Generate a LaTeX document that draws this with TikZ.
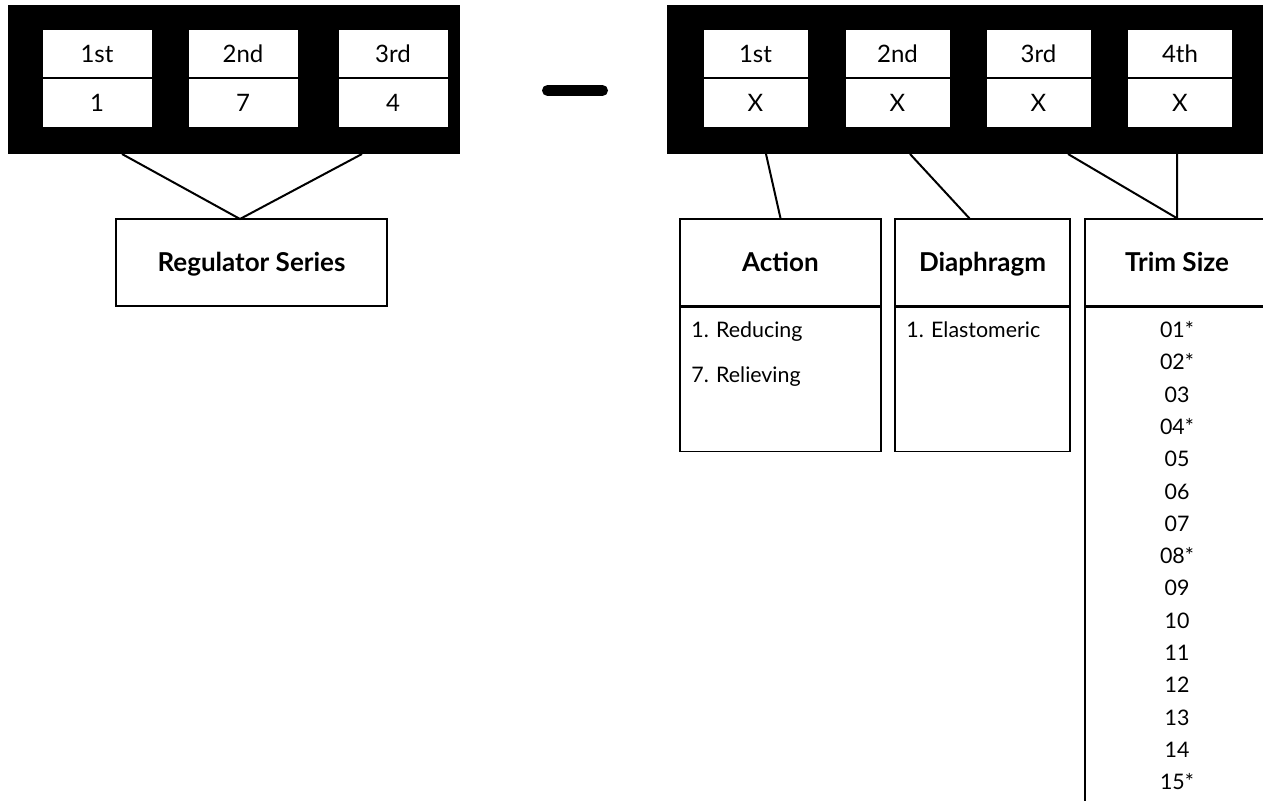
\documentclass[tikz,border=0pt]{standalone}
\usepackage{fontspec}
\setmainfont{Lato}
\usetikzlibrary{positioning}

\begin{document}
\begin{tikzpicture}[
    x=0.5pt, y=-0.5pt,
    frame/.style={rectangle, fill=black, inner sep=0pt, minimum height=74.5pt},
    cell/.style={rectangle, draw, fill=white, inner sep=0pt, minimum height=24.25pt,
                 font=\fontsize{12}{14}\selectfont},
    lcell/.style={cell, minimum width=55pt},
    rcell/.style={cell, minimum width=52.5pt},
    hdr/.style={rectangle, draw, line width=0.75pt, fill=white, inner sep=0pt,
                minimum height=43.5pt, text height=11.3pt, text depth=2.7pt,
                font=\fontsize{13}{15}\selectfont\bfseries},
    body/.style={rectangle, draw, line width=0.75pt, inner sep=0pt},
    items/.style={inner sep=0pt, font=\fontsize{10.7}{22.5}\selectfont, align=left},
    link/.style={line width=1pt},
]
\clip (0,0) rectangle (1263,801);

% Regulator series code
\node[frame, minimum width=226pt] (lframe) at (234,79.5) {};
\node[lcell] (l1top) at (97,53.5) {1st};
\node[lcell, below=0pt of l1top] (l1bot) {1};
\node[lcell] (l2top) at (243,53.5) {2nd};
\node[lcell, below=0pt of l2top] (l2bot) {7};
\node[lcell] (l3top) at (393,53.5) {3rd};
\node[lcell, below=0pt of l3top] (l3bot) {4};

% Dash
\draw[line width=5.5pt, line cap=round] (547.5,90.5) -- (602.5,90.5);

% Option code
\node[frame, minimum width=304pt] (rframe) at (971,79.5) {};
\node[rcell] (r1top) at (755.5,53.5) {1st};
\node[rcell, below=0pt of r1top] (r1bot) {X};
\node[rcell] (r2top) at (897.5,53.5) {2nd};
\node[rcell, below=0pt of r2top] (r2bot) {X};
\node[rcell] (r3top) at (1038.5,53.5) {3rd};
\node[rcell, below=0pt of r3top] (r3bot) {X};
\node[rcell] (r4top) at (1180,53.5) {4th};
\node[rcell, below=0pt of r4top] (r4bot) {X};

% Dividers
\foreach \c in {l1,l2,l3,r1,r2,r3,r4}
  \draw[line width=1pt] (\c top.south west) -- (\c top.south east);

% Headers
\node[hdr, minimum width=135.5pt] (reg) at (251.5,262.5) {Regulator Series};
\node[hdr, minimum width=100.5pt] (act) at (780.5,262.5) {Action};
\node[hdr, minimum width=87.5pt] (dia) at (982.5,262.5) {Diaphragm};
\node[hdr, minimum width=92pt] (trim) at (1177,262.5) {Trim Size};

% Lists
\node[body, minimum width=100.5pt, minimum height=72pt, below=0pt of act] (actbody) {};
\node[body, minimum width=87.5pt, minimum height=72pt, below=0pt of dia] (diabody) {};
\node[body, minimum width=92pt, minimum height=260pt, below=0pt of trim] (trimbody) {};
\node[items, anchor=north west] (actlist) at (691,321) {1. Reducing\\7. Relieving};
\node[items, anchor=north west] (dialist) at (906,321) {1. Elastomeric};
\node[items, anchor=north, align=center, font=\fontsize{10.7}{16.15}\selectfont] (trimlist) at (1177,321)
  {01*\\02*\\03\\04*\\05\\06\\07\\08*\\09\\10\\11\\12\\13\\14\\15*};

% Links
\coordinate (lj1) at (122,154);
\coordinate (lj2) at (362,154);
\coordinate (regtop) at (240,219);
\coordinate (rj1) at (766,154);
\coordinate (rj2) at (910,154);
\coordinate (rj3) at (1068,154);
\coordinate (rj4) at (1177,154);
\coordinate (diatop) at (970,219);
\draw[link] (lj1) -- (regtop) -- (lj2);
\draw[link] (rj1) -- (act.north);
\draw[link] (rj2) -- (diatop);
\draw[link] (rj3) -- (trim.north) -- (rj4);

\end{tikzpicture}
\end{document}
